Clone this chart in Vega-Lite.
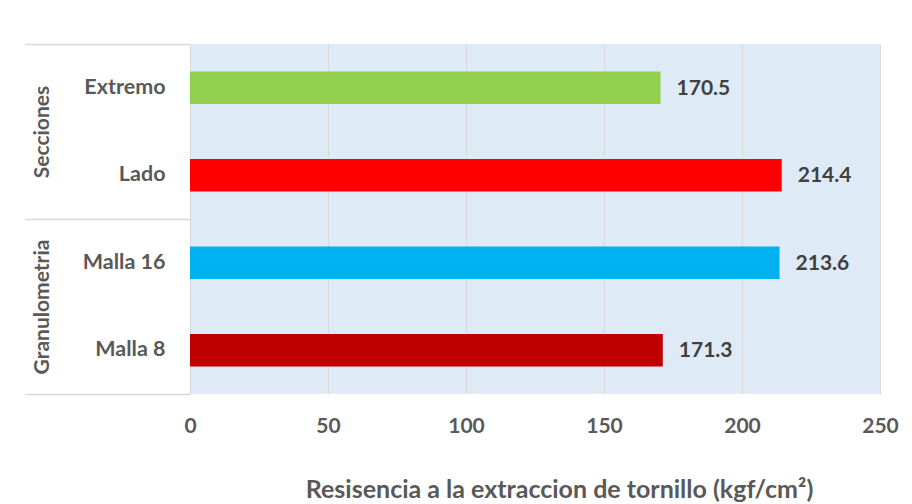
{
  "$schema": "https://vega.github.io/schema/vega-lite/v6.json",
  "width": 690,
  "height": 350,
  "autosize": "none",
  "padding": {"left": 190, "top": 44, "right": 32, "bottom": 110},
  "background": "white",
  "config": {"font": "Lato", "view": {"fill": "#DEEBF7", "stroke": null}},
  "datasets": {
    "bars": [
      {"categoria": "Extremo", "grupo": "Secciones", "valor": 170.5},
      {"categoria": "Lado", "grupo": "Secciones", "valor": 214.4},
      {"categoria": "Malla 16", "grupo": "Granulometria", "valor": 213.6},
      {"categoria": "Malla 8", "grupo": "Granulometria", "valor": 171.3}
    ],
    "grupos": [
      {"grupo": "Secciones"},
      {"grupo": "Granulometria"}
    ]
  },
  "layer": [
    {
      "data": {"name": "bars"},
      "encoding": {
        "y": {
          "field": "categoria",
          "type": "nominal",
          "sort": ["Extremo", "Lado", "Malla 16", "Malla 8"],
          "scale": {"paddingInner": 0.63, "paddingOuter": 0.315},
          "axis": {
            "title": null,
            "ticks": false,
            "domain": true,
            "domainColor": "#D9D9D9",
            "labelPadding": 25,
            "labelFontSize": 21.5,
            "labelFontWeight": "bold",
            "labelColor": "#595959"
          }
        },
        "x": {
          "field": "valor",
          "type": "quantitative",
          "scale": {"domain": [0, 250]},
          "axis": {
            "values": [0, 50, 100, 150, 200, 250],
            "title": "Resisencia a la extraccion de tornillo (kgf/cm²)",
            "titleFontSize": 25,
            "titleFontWeight": "bold",
            "titleColor": "#595959",
            "titlePadding": 41,
            "titleX": 369,
            "domain": false,
            "ticks": false,
            "grid": true,
            "gridColor": "#D9D9D9",
            "labelFlush": false,
            "labelPadding": 21,
            "labelFontSize": 21,
            "labelFontWeight": "bold",
            "labelColor": "#595959"
          }
        }
      },
      "layer": [
        {
          "mark": {"type": "bar"},
          "encoding": {
            "color": {
              "field": "categoria",
              "type": "nominal",
              "scale": {
                "domain": ["Extremo", "Lado", "Malla 16", "Malla 8"],
                "range": ["#92D050", "#FF0000", "#00B0F0", "#C00000"]
              },
              "legend": null
            }
          }
        },
        {
          "mark": {"type": "text", "align": "left", "baseline": "middle", "dx": 16, "dy": 1, "fontWeight": "bold", "fontSize": 21, "color": "#404040"},
          "encoding": {"text": {"field": "valor", "type": "quantitative", "format": ".1f"}}
        }
      ]
    },
    {
      "data": {"name": "grupos"},
      "mark": {"type": "point", "opacity": 0},
      "encoding": {
        "y": {
          "field": "grupo",
          "type": "nominal",
          "sort": ["Secciones", "Granulometria"],
          "scale": {"type": "band", "paddingInner": 0, "paddingOuter": 0},
          "axis": {
            "orient": "left",
            "title": null,
            "tickBand": "extent",
            "tickSize": 165,
            "tickColor": "#D9D9D9",
            "tickWidth": 1.5,
            "domain": false,
            "labelAngle": -90,
            "labelAlign": "center",
            "labelBaseline": "middle",
            "labelPadding": -17,
            "labelFontSize": 21,
            "labelFontWeight": "bold",
            "labelColor": "#595959"
          }
        }
      }
    }
  ],
  "resolve": {"scale": {"y": "independent"}}
}
